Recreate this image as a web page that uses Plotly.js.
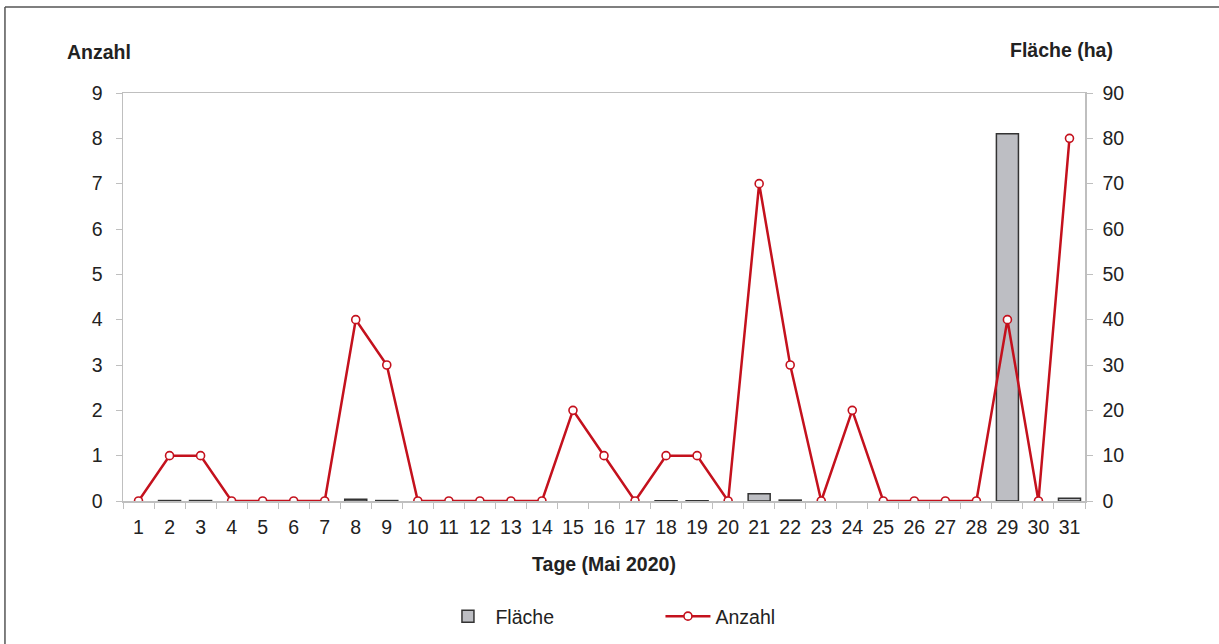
<!DOCTYPE html>
<html>
<head>
<meta charset="utf-8">
<script src="https://cdn.plot.ly/plotly-3.0.1.min.js"></script>
<style>html,body{margin:0;padding:0;background:#fff;}#chart{width:1219px;height:644px;}</style>
</head>
<body>
<div id="chart"></div>
<script>
const days = ["1","2","3","4","5","6","7","8","9","10","11","12","13","14","15","16","17","18","19","20","21","22","23","24","25","26","27","28","29","30","31"];
const anzahl = [0,1,1,0,0,0,0,4,3,0,0,0,0,0,2,1,0,1,1,0,7,3,0,2,0,0,0,0,4,0,8];
const flaeche = [0,0.1,0.1,0,0,0,0,0.4,0.1,0,0,0,0,0,0,0,0,0.05,0.05,0,1.6,0.2,0,0,0,0,0,0,81,0,0.6];
const leftTicks = [0,1,2,3,4,5,6,7,8,9];
const rightTicks = [0,10,20,30,40,50,60,70,80,90];

const font = {family: "Liberation Sans, Arial, sans-serif", color: "#222"};
const red = "#c4111d";
const TICK = 19.5;
const TITLE = 19.5;

const traces = [
  {type: "bar", name: "Fläche", x: days, y: flaeche.map(v => v === 0 ? null : v), yaxis: "y",
   marker: {color: "#bdbec3", line: {color: "#333", width: 1.5}}},
  {type: "scatter", mode: "lines+markers", name: "Anzahl", x: days, y: anzahl, yaxis: "y2",
   line: {color: red, width: 2.5},
   marker: {symbol: "circle", size: 8, color: "#fff", line: {color: red, width: 1.6}}}
];

const layout = {
  width: 1219, height: 644,
  margin: {l: 123, r: 134, t: 93, b: 143, autoexpand: false},
  paper_bgcolor: "#fff", plot_bgcolor: "#fff",
  font: Object.assign({size: TICK}, font),
  bargap: 0.29,
  xaxis: {type: "category", range: [-0.5, days.length - 0.5], autorange: false, automargin: false,
          tickson: "boundaries", ticks: "outside", ticklen: 6, tickcolor: "#bfbfbf",
          showline: true, linecolor: "#bfbfbf", linewidth: 1.5, mirror: true, showgrid: false,
          ticklabelstandoff: 8,
          tickfont: Object.assign({size: TICK}, font),
          title: {text: "Tage (Mai 2020)", font: Object.assign({size: TITLE, weight: "bold"}, font), standoff: 20}},
  yaxis: {side: "right", range: [0, 90], tickvals: rightTicks, ticks: "outside", ticklen: 6, tickcolor: "#bfbfbf",
          automargin: false,
          showline: true, linecolor: "#bfbfbf", linewidth: 1.5, showgrid: false, zeroline: false,
          ticklabelstandoff: 6, tickfont: Object.assign({size: TICK}, font)},
  yaxis2: {side: "left", overlaying: "y", range: [0, 9], tickvals: leftTicks, ticks: "outside", ticklen: 6, tickcolor: "#bfbfbf",
          automargin: false,
          showline: true, linecolor: "#bfbfbf", linewidth: 1.5, showgrid: false, zeroline: false,
          ticklabelstandoff: 9, tickfont: Object.assign({size: TICK}, font)},
  showlegend: true,
  legend: {orientation: "h", x: 0.33, y: -0.283, xanchor: "left", yanchor: "middle",
           font: Object.assign({size: TICK}, font), entrywidth: 160, itemwidth: 45, traceorder: "normal"},
  annotations: [
    {text: "<b>Anzahl</b>", xref: "paper", yref: "paper", x: -0.025, y: 1.10, xanchor: "center", yanchor: "middle",
     showarrow: false, font: Object.assign({size: TITLE}, font)},
    {text: "<b>Fläche (ha)</b>", xref: "paper", yref: "paper", x: 0.976, y: 1.105, xanchor: "center", yanchor: "middle",
     showarrow: false, font: Object.assign({size: TITLE}, font)}
  ],
  shapes: [
    {type: "line", xref: "paper", yref: "paper", x0: -0.1227, x1: 1.14, y0: 1.2108, y1: 1.2108, line: {color: "#555", width: 1.5}},
    {type: "line", xref: "paper", yref: "paper", x0: -0.1227, x1: -0.1227, y0: 1.2108, y1: -0.36, line: {color: "#555", width: 1.5}}
  ]
};

Plotly.newPlot("chart", traces, layout, {displayModeBar: false, staticPlot: true});
</script>
</body>
</html>
